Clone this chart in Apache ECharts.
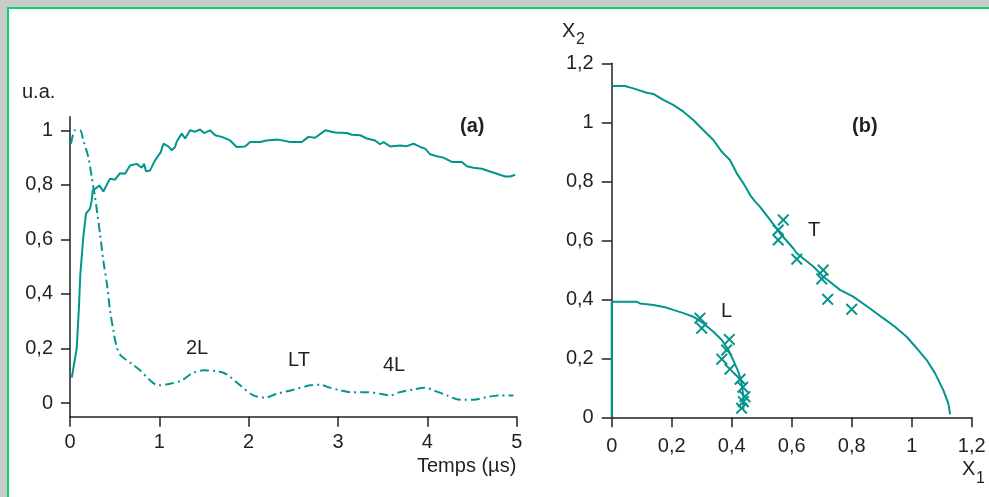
<!DOCTYPE html>
<html>
<head>
<meta charset="utf-8">
<script src="https://cdn.jsdelivr.net/npm/echarts@6/dist/echarts.min.js"></script>
<style>
html,body{margin:0;padding:0;background:#cbcbcb;width:989px;height:497px;overflow:hidden;}
#frame{position:absolute;left:7px;top:7px;width:990px;height:500px;background:#fff;border-left:2px solid #0bd36c;border-top:2px solid #0bd36c;}
#chart{position:absolute;left:0;top:0;width:989px;height:497px;}
</style>
</head>
<body>
<div id="frame"></div>
<div id="chart"></div>
<script>
// ---- Panel (a): signals vs time (µs)
const solidT = [0.02,0.075,0.10,0.115,0.149,0.179,0.224,0.243,0.254,0.30,0.328,0.373,0.448,0.504,0.560,0.616,0.672,0.747,0.803,0.829,0.851,0.896,0.952,1.016,1.045,1.101,1.139,1.176,1.195,1.251,1.288,1.344,1.40,1.456,1.50,1.568,1.624,1.698,1.792,1.866,1.960,2.016,2.128,2.202,2.333,2.464,2.595,2.669,2.744,2.856,2.968,3.099,3.155,3.248,3.322,3.415,3.471,3.509,3.584,3.695,3.770,3.844,3.919,3.975,4.031,4.106,4.180,4.274,4.386,4.442,4.516,4.610,4.684,4.778,4.871,4.927,4.983];
const solidV = [0.093,0.20,0.35,0.47,0.609,0.695,0.713,0.743,0.780,0.79,0.798,0.776,0.823,0.819,0.843,0.841,0.871,0.877,0.863,0.877,0.850,0.853,0.890,0.920,0.951,0.941,0.927,0.939,0.959,0.988,0.970,1.0,0.995,1.003,0.99,1.0,0.982,0.976,0.963,0.939,0.941,0.957,0.957,0.963,0.966,0.957,0.957,0.976,0.973,1.0,0.992,0.990,0.984,0.982,0.970,0.963,0.949,0.957,0.941,0.944,0.942,0.951,0.939,0.933,0.912,0.905,0.900,0.884,0.884,0.868,0.863,0.859,0.851,0.841,0.831,0.831,0.837];
const dashT = [0.011,0.037,0.056,0.112,0.149,0.205,0.243,0.280,0.306,0.336,0.373,0.418,0.448,0.485,0.523,0.567,0.691,0.784,0.877,0.989,1.120,1.251,1.363,1.493,1.642,1.755,1.904,2.053,2.184,2.315,2.501,2.688,2.800,2.912,3.023,3.135,3.322,3.471,3.583,3.695,3.844,3.975,4.069,4.218,4.367,4.516,4.665,4.815,4.964];
const dashV = [0.951,0.988,1.0,1.0,0.963,0.902,0.829,0.755,0.695,0.621,0.523,0.425,0.340,0.267,0.205,0.175,0.144,0.120,0.089,0.065,0.071,0.083,0.108,0.120,0.117,0.105,0.065,0.028,0.020,0.034,0.049,0.065,0.067,0.056,0.047,0.040,0.040,0.034,0.028,0.040,0.050,0.056,0.047,0.028,0.012,0.012,0.022,0.028,0.028];
const aYTicks = [0,0.2,0.4,0.6,0.8,1];

// ---- Panel (b): X1 / X2 curves and measured points
const tX1 = [0,0.044,0.072,0.117,0.139,0.172,0.205,0.239,0.272,0.305,0.339,0.367,0.394,0.417,0.439,0.461,0.478,0.494,0.528,0.561,0.605,0.617,0.672,0.705,0.761,0.805,0.861,0.905,0.944,0.983,1.017,1.050,1.078,1.105,1.122,1.128];
const tX2 = [1.123,1.123,1.115,1.100,1.096,1.076,1.059,1.036,1.008,0.974,0.940,0.900,0.872,0.827,0.793,0.754,0.731,0.714,0.669,0.624,0.573,0.556,0.511,0.477,0.432,0.409,0.369,0.336,0.307,0.273,0.234,0.194,0.149,0.093,0.047,0.01];
const lX1 = [0,0,0.083,0.094,0.139,0.144,0.178,0.205,0.239,0.272,0.305,0.339,0.367,0.389,0.405,0.422,0.433,0.439,0.439];
const lX2 = [0,0.392,0.392,0.386,0.381,0.375,0.373,0.364,0.353,0.341,0.319,0.290,0.262,0.228,0.194,0.155,0.115,0.070,0.025];
const tmX1 = [0.572,0.555,0.555,0.617,0.705,0.700,0.720,0.800];
const tmX2 = [0.669,0.635,0.601,0.536,0.499,0.469,0.400,0.366];
const lmX1 = [0.294,0.300,0.392,0.383,0.367,0.394,0.428,0.437,0.444,0.439,0.433];
const lmX2 = [0.336,0.302,0.264,0.228,0.197,0.163,0.129,0.102,0.070,0.053,0.031];

const TEAL = '#00968c';
const INK = '#231f20';
const FONT = '"Liberation Sans", Arial, sans-serif';
const fmt = v => String(+v.toFixed(2)).replace('.', ',');
const zip = (a, b) => a.map((v, i) => [v, b[i]]);
const cross = 'path://M0,1.4L1.4,0L6,4.6L10.6,0L12,1.4L7.4,6L12,10.6L10.6,12L6,7.4L1.4,12L0,10.6L4.6,6Z';

const axisLine = () => ({show: true, onZero: false, lineStyle: {color: INK, width: 1.5}});
const tick = len => ({show: true, length: len, lineStyle: {color: INK, width: 1.5}});
const lab = m => ({color: INK, fontSize: 20, fontFamily: FONT, margin: m, formatter: fmt});

const chart = echarts.init(document.getElementById('chart'));
const txt = (x, y, s, opts) => ({type: 'text', left: x, top: y, style: Object.assign({text: s, fill: INK, font: '20px ' + FONT}, opts || {})});

chart.setOption({
  animation: false,
  grid: [
    {left: 70, top: 116.7, width: 446.7, height: 300},
    {left: 611.7, top: 63.3, width: 360, height: 354}
  ],
  xAxis: [
    {gridIndex: 0, type: 'value', min: 0, max: 5, interval: 1, axisLine: axisLine(), axisTick: tick(10), axisLabel: lab(16), splitLine: {show: false}},
    {gridIndex: 1, type: 'value', min: 0, max: 1.2, interval: 0.2, axisLine: axisLine(), axisTick: tick(10), axisLabel: lab(19), splitLine: {show: false}}
  ],
  yAxis: [
    {gridIndex: 0, type: 'value', min: -0.05, max: 1.05, axisLine: axisLine(),
     axisTick: Object.assign(tick(9), {customValues: aYTicks}),
     axisLabel: Object.assign(lab(17), {customValues: aYTicks}), splitLine: {show: false}},
    {gridIndex: 1, type: 'value', min: 0, max: 1.2, interval: 0.2, axisLine: axisLine(), axisTick: tick(10), axisLabel: lab(18), splitLine: {show: false}}
  ],
  series: [
    {type: 'line', xAxisIndex: 0, yAxisIndex: 0, data: zip(solidT, solidV), showSymbol: false, symbol: 'none',
     lineStyle: {color: TEAL, width: 2}},
    {type: 'line', xAxisIndex: 0, yAxisIndex: 0, data: zip(dashT, dashV), showSymbol: false, symbol: 'none', smooth: 0.3,
     lineStyle: {color: TEAL, width: 2, type: [9, 4, 2, 4]}},
    {type: 'line', xAxisIndex: 1, yAxisIndex: 1, data: zip(tX1, tX2), showSymbol: false, symbol: 'none',
     lineStyle: {color: TEAL, width: 2}},
    {type: 'line', xAxisIndex: 1, yAxisIndex: 1, data: zip(lX1, lX2), showSymbol: false, symbol: 'none',
     lineStyle: {color: TEAL, width: 2}},
    {type: 'scatter', xAxisIndex: 1, yAxisIndex: 1, data: zip(tmX1, tmX2), symbol: cross, symbolSize: 12,
     itemStyle: {color: TEAL, opacity: 1}},
    {type: 'scatter', xAxisIndex: 1, yAxisIndex: 1, data: zip(lmX1, lmX2), symbol: cross, symbolSize: 12,
     itemStyle: {color: TEAL, opacity: 1}}
  ],
  graphic: [
    txt(22, 82, 'u.a.'),
    txt(460, 116, '(a)', {font: 'bold 20px ' + FONT}),
    txt(186, 338, '2L'),
    txt(288, 350, 'LT'),
    txt(383, 355, '4L'),
    txt(417, 456, 'Temps (µs)'),
    txt(852, 116, '(b)', {font: 'bold 20px ' + FONT}),
    txt(808, 220, 'T'),
    txt(721, 301, 'L'),
    txt(562, 21, 'X'),
    txt(576, 32, '2', {font: '16px ' + FONT}),
    txt(962, 459, 'X'),
    txt(976, 471, '1', {font: '16px ' + FONT})
  ]
});
</script>
</body>
</html>
